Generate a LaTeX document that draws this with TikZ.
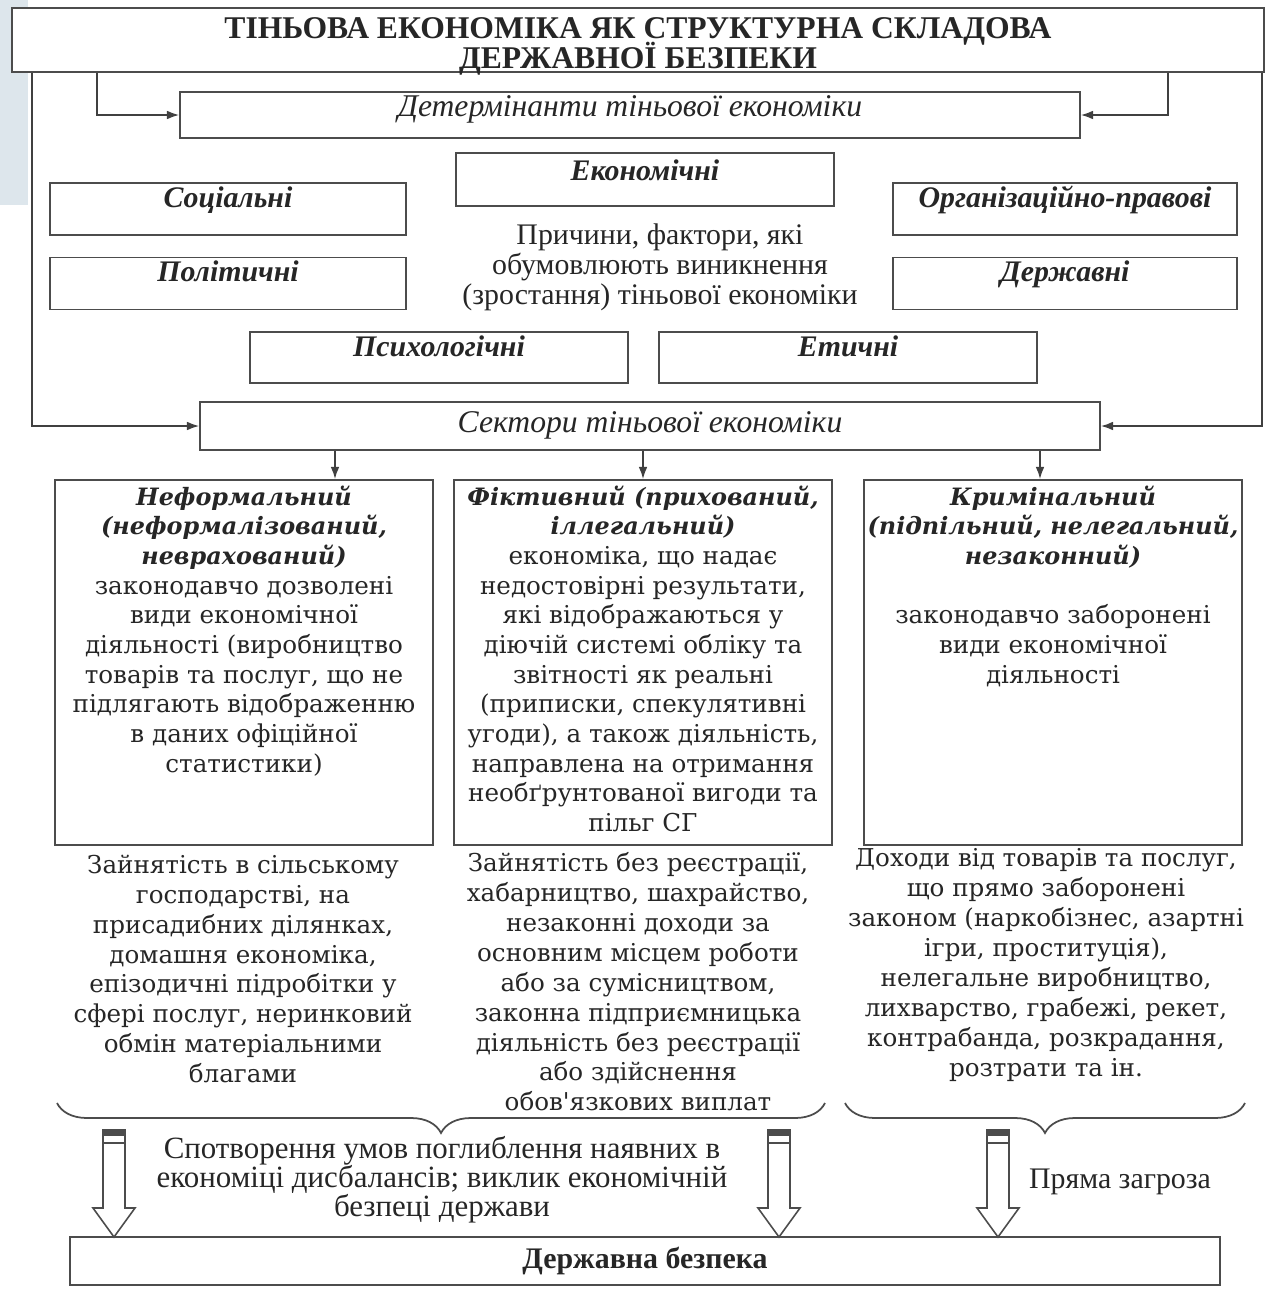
\documentclass[tikz,border=0pt]{standalone}
\usepackage{fontspec}
\setmainfont{Liberation Serif}
\newfontfamily\widefont{DejaVu Serif}
\usetikzlibrary{arrows.meta,decorations.pathreplacing}
\newcommand{\sechead}[1]{{\bfseries\itshape\fontsize{13.6}{16.9}\selectfont #1}}
\newcommand{\cellstack}[1]{\begin{tabular}[t]{@{}c@{}}#1\end{tabular}}
\definecolor{stripcol}{HTML}{DDE6EC}

\begin{document}
\begin{tikzpicture}[x=0.02cm, y=-0.02cm,
    box/.style={draw=black!70, line width=1pt, rectangle, fill=white, text=black!85, inner sep=0pt},
    fct/.style={box, minimum width=#1, font=\fontsize{17}{17}\selectfont\bfseries\itshape, text height=0.48cm, text depth=0.56cm},
    sector/.style={box, minimum width=7.56cm, font=\widefont\fontsize{14}{16.9}\selectfont, text height=0.5cm, text depth=6.8cm},
    descr/.style={align=center, text=black!85, inner sep=0pt, font=\widefont\fontsize{14}{17}\selectfont},
    arr/.style={draw=black!75, line width=1pt, -{Latex[length=7pt,width=5pt]}},
    brc/.style={draw=black!70, line width=1pt, decorate, decoration={brace, mirror, amplitude=0.6cm}},
    holl/.style={draw=black!70, line width=0.9pt, fill=white}]
\useasboundingbox (0,0) rectangle (1268,1289);
\fill[stripcol] (0,0) rectangle (28,205);

% Вузли
\node[box, minimum width=25.04cm, text height=1.22cm, text depth=0.06cm, align=center, font=\fontsize{18}{16.5}\selectfont\bfseries] (title) at (638,40) {ТІНЬОВА ЕКОНОМІКА ЯК СТРУКТУРНА СКЛАДОВА\\[-2.3pt]ДЕРЖАВНОЇ БЕЗПЕКИ};
\node[box, minimum width=18cm, text height=0.48cm, text depth=0.44cm, font=\fontsize{18}{18}\selectfont\itshape] (det) at (630,115) {Детермінанти тіньової економіки};

\node[fct=7.56cm, text height=0.54cm, text depth=0.52cm] (econ) at (645,179.5) {Економічні};
\node[fct=7.12cm] (soc) at (228,209) {Соціальні};
\node[fct=6.88cm] (org) at (1065,209) {Організаційно-правові};
\node[fct=7.12cm] (pol) at (228,283.5) {Політичні};
\node[fct=6.88cm] (derzh) at (1065,283.5) {Державні};
\node[fct=7.56cm, text depth=0.54cm] (psy) at (439,357.5) {Психологічні};
\node[fct=7.56cm, text depth=0.54cm] (eth) at (848,357.5) {Етичні};
\node[align=center, text=black!85, inner sep=0pt, font=\fontsize{17}{17}\selectfont] (causes) at (660,267) {Причини, фактори, які\\обумовлюють виникнення\\(зростання) тіньової економіки};

\node[box, minimum width=18cm, text height=0.6cm, text depth=0.36cm, font=\fontsize{18}{18}\selectfont\itshape] (sect) at (650,426) {Сектори тіньової економіки};

\node[sector] (s1) at (244,662.5) {\cellstack{\sechead{Неформальний}\\\sechead{(неформалізований,}\\\sechead{неврахований)}\\законодавчо дозволені\\види економічної\\діяльності (виробництво\\товарів та послуг, що не\\підлягають відображенню\\в даних офіційної\\статистики)}};
\node[sector] (s2) at (643,662.5) {\cellstack{\sechead{Фіктивний (прихований,}\\\sechead{іллегальний)}\\економіка, що надає\\недостовірні результати,\\які відображаються у\\діючій системі обліку та\\звітності як реальні\\(приписки, спекулятивні\\угоди), а також діяльність,\\направлена на отримання\\необґрунтованої вигоди та\\пільг СГ}};
\node[sector] (s3) at (1053,662.5) {\cellstack{\sechead{Кримінальний}\\\sechead{(підпільний, нелегальний,}\\\sechead{незаконний)}\\[16.9pt]законодавчо заборонені\\види економічної\\діяльності}};

\node[descr] (d1) at (243,969) {Зайнятість в сільському\\господарстві, на\\присадибних ділянках,\\домашня економіка,\\епізодичні підробітки у\\сфері послуг, неринковий\\обмін матеріальними\\благами};
\node[descr] (d2) at (638,982) {Зайнятість без реєстрації,\\хабарництво, шахрайство,\\незаконні доходи за\\основним місцем роботи\\або за сумісництвом,\\законна підприємницька\\діяльність без реєстрації\\або здійснення\\обов'язкових виплат};
\node[descr] (d3) at (1046,965) {Доходи від товарів та послуг,\\що прямо заборонені\\законом (наркобізнес, азартні\\ігри, проституція),\\нелегальне виробництво,\\лихварство, грабежі, рекет,\\контрабанда, розкрадання,\\розтрати та ін.};

\node[align=center, text=black!85, inner sep=0pt, font=\fontsize{17.6}{16.5}\selectfont] (harm) at (442,1180) {Спотворення умов поглиблення наявних в\\економіці дисбалансів; виклик економічній\\безпеці держави};
\node[text=black!85, inner sep=0pt, font=\fontsize{17}{17}\selectfont] (threat) at (1120,1182) {Пряма загроза};
\node[box, minimum width=23cm, minimum height=0.96cm, font=\fontsize{17}{17}\selectfont\bfseries] (bez) at (645,1261) {Державна безпека};

% Стрілки
\draw[arr] (title.south -| 97,0) |- (det.west);
\draw[arr] (title.south -| 1168,0) |- (det.east);
\draw[arr] (title.south -| 32,0) |- (sect.west);
\draw[arr] (title.south -| 1262,0) |- (sect.east);
\draw[arr] (sect.south -| 335,0) -- (s1.north -| 335,0);
\draw[arr] (sect.south -| 643,0) -- (s2.north -| 643,0);
\draw[arr] (sect.south -| 1040,0) -- (s3.north -| 1040,0);

% Дужки
\coordinate (b1l) at (57,1103);
\coordinate (b1r) at (825,1103);
\coordinate (b2l) at (845,1103);
\coordinate (b2r) at (1245,1103);
\draw[brc] (b1l) -- (b1r);
\draw[brc] (b2l) -- (b2r);

\foreach \ax in {114,779,998}{
  \draw[holl] (\ax-11,1130) -- (\ax+11,1130) -- (\ax+11,1208) -- (\ax+21,1208) -- (\ax,1237) -- (\ax-21,1208) -- (\ax-11,1208) -- cycle;
  \fill[black!70] (\ax-11,1130) rectangle (\ax+11,1136);
  \draw[black!70, line width=0.8pt] (\ax-11,1143) -- (\ax+11,1143);
}
\end{tikzpicture}
\end{document}
